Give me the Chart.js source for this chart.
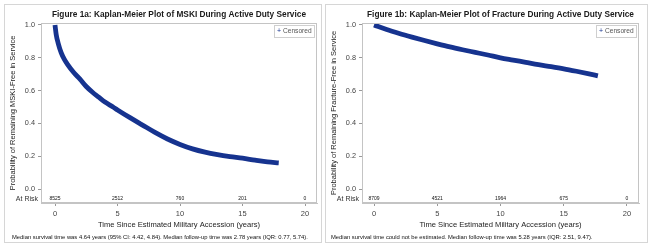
<!DOCTYPE html>
<html>
<head>
<meta charset="utf-8">
<script src="https://cdn.jsdelivr.net/npm/chart.js@4.4.0/dist/chart.umd.min.js"></script>
<style>
  body { margin: 0; background: #fff; width: 650px; height: 251px; position: relative; overflow: hidden; }
  .panel { position: absolute; top: 4px; height: 239px; border: 1px solid #d6d6d6; box-sizing: border-box; }
  canvas { position: absolute; top: 5px; }
</style>
</head>
<body>
<div class="panel" style="left:4px;width:318px"></div>
<div class="panel" style="left:325px;width:323px"></div>
<canvas id="msk" width="315" height="237" style="left:5px"></canvas>
<canvas id="frac" width="320" height="237" style="left:326px"></canvas>
<script>
// data
const mskiTime = [0, 0.1, 0.25, 0.5, 0.75, 1, 1.5, 2, 2.5, 3, 3.5, 4, 4.64, 5, 6, 7, 8, 9, 10, 11, 12, 13, 14, 15, 16, 17, 17.9];
const mskiSurv = [1.0, 0.94, 0.89, 0.83, 0.79, 0.76, 0.71, 0.67, 0.625, 0.59, 0.56, 0.53, 0.50, 0.482, 0.435, 0.39, 0.345, 0.305, 0.272, 0.245, 0.225, 0.21, 0.198, 0.188, 0.176, 0.165, 0.16];
const fracTime = [0, 1, 2, 3, 4, 5, 6, 7, 8, 9, 10, 11, 12, 13, 14, 15, 16, 17, 17.7];
const fracSurv = [1.0, 0.972, 0.948, 0.926, 0.905, 0.885, 0.866, 0.849, 0.833, 0.817, 0.8, 0.786, 0.772, 0.758, 0.746, 0.733, 0.718, 0.702, 0.69];
const riskTimes = [0, 5, 10, 15, 20];
const mskiAtRisk = [8525, 2512, 760, 201, 0];
const fracAtRisk = [8709, 4521, 1964, 675, 0];
const xTicks = [0, 5, 10, 15, 20];
const yTicks = [0, 0.2, 0.4, 0.6, 0.8, 1.0];

const FONT = '"Liberation Sans", Arial, sans-serif';
const lineColor = '#16338f';

// title, frame, at-risk row, legend and footnote
const extras = {
  id: 'extras',
  afterDraw(chart, args, opts) {
    const ctx = chart.ctx;
    const a = chart.chartArea;
    const xs = chart.scales.x, ys = chart.scales.y;
    ctx.save();
    // frame
    ctx.strokeStyle = '#c4c4c4';
    ctx.lineWidth = 1;
    ctx.strokeRect(a.left + 0.5, a.top + 0.5, a.right - a.left - 1, a.bottom - a.top - 1);
    // title
    ctx.fillStyle = '#1a1a1a';
    ctx.font = 'bold 8.3px ' + FONT;
    ctx.textAlign = 'center';
    ctx.textBaseline = 'middle';
    ctx.fillText(opts.title, (a.left + a.right) / 2, 10);
    // at risk
    let ry = ys.getPixelForValue(-0.058);
    ctx.font = '7px ' + FONT;
    ctx.fillStyle = '#333';
    ctx.textAlign = 'right';
    ctx.fillText('At Risk', a.left - 3, ry);
    ctx.font = '5px ' + FONT;
    ctx.fillStyle = '#111';
    ctx.textAlign = 'center';
    opts.risk.forEach((n, i) => {
      ctx.fillText(String(n), xs.getPixelForValue(riskTimes[i]), ry);
    });
    // legend
    const lw = 40, lh = 12;
    const lx = a.right - 3 - lw, ly = a.top + 2;
    ctx.strokeStyle = '#cfcfcf';
    ctx.strokeRect(lx + 0.5, ly + 0.5, lw, lh);
    ctx.fillStyle = lineColor;
    ctx.font = '7px ' + FONT;
    ctx.fillText('+', lx + 5, ly + lh / 2 + 0.5);
    ctx.fillStyle = '#555';
    ctx.textAlign = 'left';
    ctx.font = '6.6px ' + FONT;
    ctx.fillText('Censored', lx + 9, ly + lh / 2 + 0.5);
    // footnote
    ctx.fillStyle = '#111';
    ctx.font = '5.85px ' + FONT;
    ctx.fillText(opts.note, opts.noteX, 232);
    ctx.restore();
  }
};

function makeChart(id, times, surv, cfg) {
  return new Chart(document.getElementById(id), {
    type: 'line',
    data: {
      datasets: [{
        data: times.map((t, i) => ({x: t, y: surv[i]})),
        borderColor: lineColor,
        borderWidth: 4.8,
        pointRadius: 0,
        cubicInterpolationMode: 'monotone',
        fill: false
      }]
    },
    options: {
      responsive: false,
      animation: false,
      devicePixelRatio: 1,
      layout: { padding: { top: 18, right: cfg.padRight, bottom: 10, left: 0 } },
      plugins: {
        legend: { display: false },
        tooltip: { enabled: false },
        extras: { title: cfg.title, risk: cfg.risk, note: cfg.note, noteX: cfg.noteX }
      },
      scales: {
        x: {
          type: 'linear',
          min: cfg.xmin,
          max: cfg.xmax,
          afterBuildTicks: s => { s.ticks = xTicks.map(v => ({value: v})); },
          afterFit: s => { s.height = 29; },
          grid: { drawOnChartArea: false, drawTicks: true, tickLength: 3, color: '#999' },
          border: { color: '#c4c4c4' },
          ticks: { font: { family: FONT, size: 7.5 }, color: '#444', padding: 3, maxRotation: 0 },
          title: { display: true, text: 'Time Since Estimated Military Accession (years)',
                   font: { family: FONT, size: 7.6 }, color: '#222', padding: { top: 0, bottom: 2.5 } }
        },
        y: {
          min: -0.085,
          max: 1.012,
          afterBuildTicks: s => { s.ticks = yTicks.map(v => ({value: v})); },
          afterFit: s => { s.width = 36; },
          grid: { drawOnChartArea: false, drawTicks: true, tickLength: 3, color: '#999' },
          border: { color: '#c4c4c4' },
          ticks: { font: { family: FONT, size: 7.3 }, color: '#444', padding: 3, callback: v => v.toFixed(1) },
          title: { display: true, text: cfg.ytitle,
                   font: { family: FONT, size: 7.5 }, color: '#222', padding: { top: 3.5, bottom: 0 } }
        }
      }
    },
    plugins: [extras]
  });
}

makeChart('msk', mskiTime, mskiSurv, {
  title: 'Figure 1a: Kaplan-Meier Plot of MSKI During Active Duty Service',
  ytitle: 'Probability of Remaining MSKI-Free in Service',
  risk: mskiAtRisk,
  note: 'Median survival time was 4.64 years (95% CI: 4.42, 4.84). Median follow-up time was 2.78 years (IQR: 0.77, 5.74).',
  noteX: 7,
  xmin: -1.12, xmax: 20.96, padRight: 3
});

makeChart('frac', fracTime, fracSurv, {
  title: 'Figure 1b: Kaplan-Meier Plot of Fracture During Active Duty Service',
  ytitle: 'Probability of Remaining Fracture-Free in Service',
  risk: fracAtRisk,
  note: 'Median survival time could not be estimated. Median follow-up time was 5.28 years (IQR: 2.51, 9.47).',
  noteX: 5,
  xmin: -0.95, xmax: 20.95, padRight: 7
});
</script>
</body>
</html>
